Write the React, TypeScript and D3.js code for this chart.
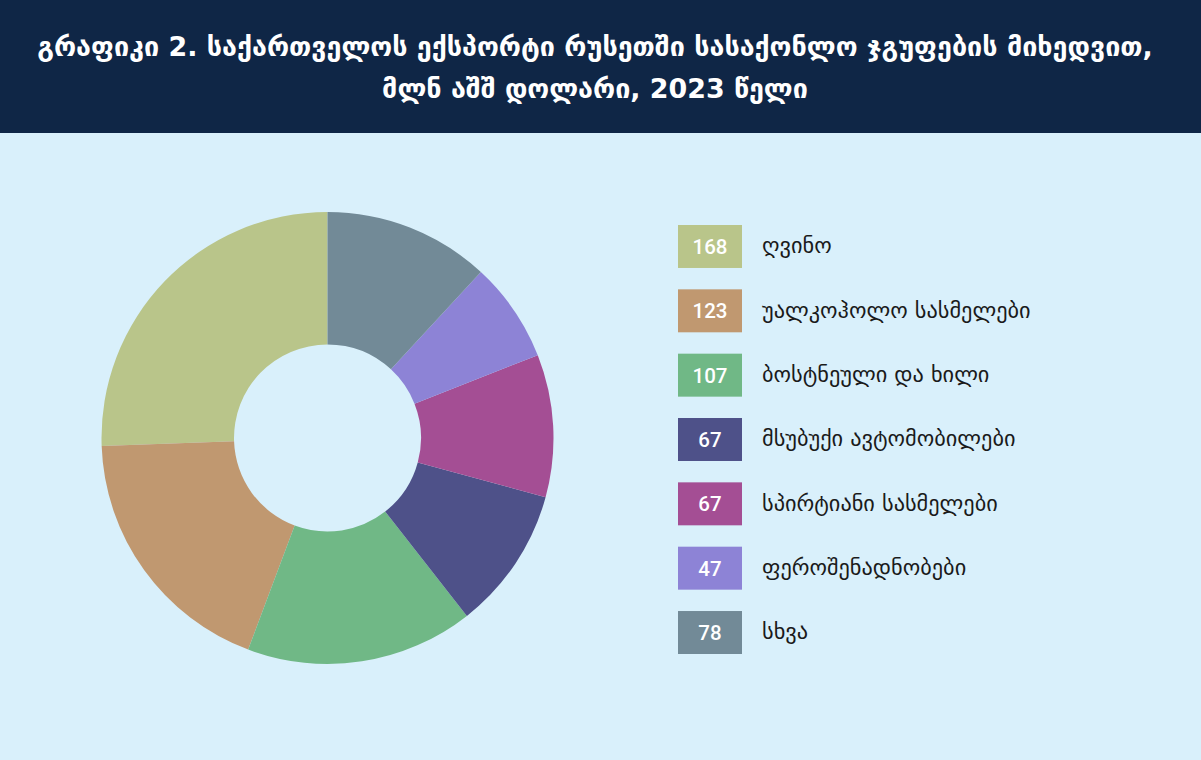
import React, { useEffect } from "react";
import * as d3 from "d3";

const categories = [
  "ღვინო",
  "უალკოჰოლო სასმელები",
  "ბოსტნეული და ხილი",
  "მსუბუქი ავტომობილები",
  "სპირტიანი სასმელები",
  "ფეროშენადნობები",
  "სხვა",
];
const values = [168, 123, 107, 67, 67, 47, 78];
const colors = ["#b9c58a", "#c09870", "#70b886", "#4e5189", "#a44e94", "#8d83d6", "#728a97"];
const titleLines = [
  "გრაფიკი 2. საქართველოს ექსპორტი რუსეთში სასაქონლო ჯგუფების მიხედვით,",
  "მლნ აშშ დოლარი, 2023 წელი",
];

const W = 1201;
const H = 760;

export default function App() {
  useEffect(() => {
    document.body.style.margin = "0";
  }, []);

  const cx = 327.5;
  const cy = 438;
  const outerR = 226;
  const innerR = 93.5;

  const pie = d3
    .pie<number>()
    .sort(null)
    .startAngle(0)
    .endAngle(-2 * Math.PI);
  const arcs = pie(values);
  const arc = d3.arc<d3.PieArcDatum<number>>().innerRadius(innerR).outerRadius(outerR);

  // legend rows
  const y = d3
    .scaleBand<number>()
    .domain(d3.range(categories.length))
    .range([225, 654])
    .paddingInner(0.332)
    .paddingOuter(0);

  return (
    <svg width={W} height={H} style={{ display: "block" }}>
      <rect width={W} height={H} fill="#d9f0fb" />
      <rect width={W} height={133} fill="#0f2646" />
      {titleLines.map((t, i) => (
        <text
          key={i}
          x={595}
          y={56 + i * 42}
          textAnchor="middle"
          fill="#ffffff"
          fontFamily="DejaVu Sans"
          fontWeight="bold"
          fontSize={26.9}
        >
          {t}
        </text>
      ))}
      <g transform={`translate(${cx},${cy})`}>
        {arcs.map((a, i) => (
          <path key={i} d={arc(a) ?? ""} fill={colors[i]} />
        ))}
      </g>
      <g>
        {categories.map((c, i) => (
          <g key={i} transform={`translate(678,${y(i)})`}>
            <rect width={64} height={y.bandwidth()} fill={colors[i]} />
            <text
              x={32}
              y={y.bandwidth() / 2}
              dy="0.36em"
              textAnchor="middle"
              fill="#ffffff"
              fontFamily="Roboto"
              fontWeight={500}
              fontSize={20.5}
            >
              {values[i]}
            </text>
            <text
              x={84}
              y={y.bandwidth() / 2}
              dy="0.3em"
              fill="#1a1a1a"
              fontFamily="DejaVu Sans"
              fontSize={22.3}
            >
              {c}
            </text>
          </g>
        ))}
      </g>
    </svg>
  );
}
